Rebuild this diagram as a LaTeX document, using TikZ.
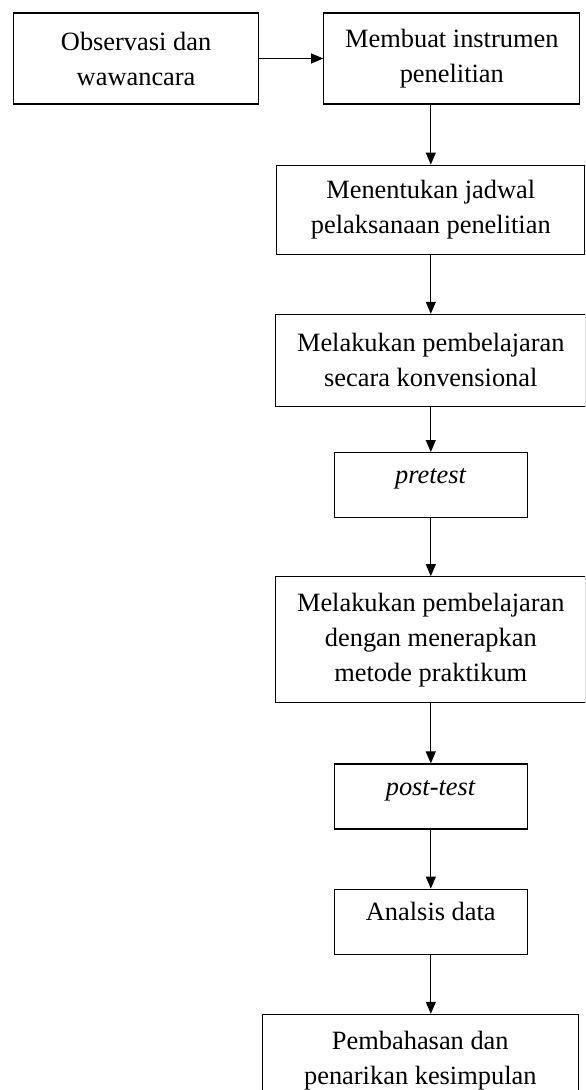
\documentclass[tikz,border=0pt]{standalone}
\usepackage{fontspec}
\setmainfont{Liberation Serif}
\usetikzlibrary{arrows.meta, positioning}

\begin{document}
\begin{tikzpicture}[
        node distance=30pt and 32pt,
        box/.style={
            rectangle, draw=black, line width=0.6pt,
            align=center, minimum height=45.5pt, inner sep=0pt,
            font=\fontsize{13.2}{17.5}\selectfont
        },
        testBox/.style={
            box, minimum width=96.5pt, minimum height=0pt,
            text height=15.5pt, text depth=17pt
        },
        arrow/.style={
            line width=0.55pt, -{Triangle[length=6pt,width=5pt]}, draw=black
        }
    ]
        \clip (0,0) rectangle (292.5pt,-545pt);

        % Flow Nodes
        \node (observasi) [box, minimum width=122.5pt, anchor=west] at (6.5pt,-29.25pt) {Observasi dan\\wawancara};
        \node (instrumen) [box, minimum width=128pt, right=32pt of observasi] {Membuat instrumen\\penelitian};

        \node (jadwal) [box, minimum width=154pt, minimum height=44.5pt, below=30pt of instrumen, xshift=-10.5pt] {Menentukan jadwal\\pelaksanaan penelitian};
        \node (konvensional) [box, minimum width=155pt, minimum height=46pt, below=29.5pt of jadwal] {Melakukan pembelajaran\\secara konvensional};
        \node (pretest) [testBox, below=22.5pt of konvensional] {\textit{pretest}};
        \node (praktikum) [box, minimum width=155pt, minimum height=63pt, below=29pt of pretest] {Melakukan pembelajaran\\dengan menerapkan\\metode praktikum};
        \node (posttest) [testBox, below=30pt of praktikum] {\textit{post-test}};
        \node (analisis) [testBox, below=29.5pt of posttest] {Analsis data};
        \node (kesimpulan) [box, minimum width=158pt, minimum height=46pt, below=29.5pt of analisis, xshift=-5.25pt] {Pembahasan dan\\penarikan kesimpulan};

        % Connectors
        \draw [arrow] (observasi) -- (instrumen);
        \draw [arrow] (instrumen.south -| jadwal.north) -- (jadwal.north);
        \draw [arrow] (jadwal) -- (konvensional);
        \draw [arrow] (konvensional) -- (pretest);
        \draw [arrow] (pretest) -- (praktikum);
        \draw [arrow] (praktikum) -- (posttest);
        \draw [arrow] (posttest) -- (analisis);
        \draw [arrow] (analisis) -- (analisis.south |- kesimpulan.north);
    \end{tikzpicture}
\end{document}
